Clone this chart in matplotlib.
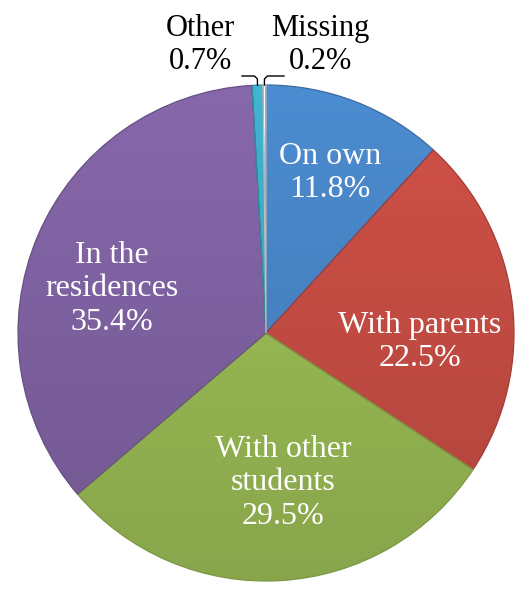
import matplotlib
matplotlib.use("Agg")
import matplotlib.pyplot as plt
import numpy as np
from matplotlib.colors import to_rgb

plt.rcParams["font.family"] = "serif"
plt.rcParams["font.serif"] = ["Liberation Serif", "Times New Roman", "DejaVu Serif"]

# Living arrangements of students (share of respondents, %)
categories = ["On own", "With parents", "With other students",
              "In the residences", "Other", "Missing"]
shares = [11.8, 22.5, 29.5, 35.4, 0.7, 0.2]
label_names = ["On own", "With parents", "With other\nstudents",
               "In the\nresidences", "Other", "Missing"]
colors = ["#4783C3", "#C34C43", "#97B853", "#7E61A0", "#3CA9C4", "#E8E8E8"]

W, H = 515, 590
fig = plt.figure(figsize=(W / 100, H / 100), dpi=100)
ax = fig.add_axes([0, 0, 1, 1])

cx, cy, r = 266, H - 333, 248

wedges, _ = ax.pie(shares, colors=colors, startangle=90, counterclock=False,
                   center=(cx, cy), radius=r, frame=True,
                   wedgeprops=dict(linewidth=0))

# vertical shading: lighter at the top of the pie, darker at the bottom
ny = 400
shade = np.linspace(1.07, 0.90, ny)[:, None]
for w, c in zip(wedges, colors):
    base = np.array(to_rgb(c))
    img = np.clip(shade[:, :, None] * base[None, None, :], 0, 1)
    img = np.repeat(img, 2, axis=1)
    im = ax.imshow(img, extent=(cx - r, cx + r, cy - r, cy + r),
                   origin="upper", interpolation="bilinear", zorder=1.5,
                   aspect="auto")
    im.set_clip_path(w)
    edge = np.clip(base * 0.82, 0, 1)
    w.set_edgecolor(edge)
    w.set_linewidth(0.9)
    w.set_zorder(1.6)
    w.set_facecolor("none")

# labels inside the large slices
fs_in = 23
inner_pos = [(330, 173), (420, 342), (283, 483), (112, 289)]
for i, (px, py) in enumerate(inner_pos):
    ax.text(px, H - py, f"{label_names[i]}\n{shares[i]:.1f}%",
            ha="center", va="center", color="white", fontsize=fs_in, zorder=3)

# small slices labelled outside with elbow leader lines
fs_out = 22
outer_pos = {4: (200, 45), 5: (320, 45)}
line_end = {4: 242, 5: 284}
elbow_y = H - 76
for i, (px, py) in outer_pos.items():
    ax.text(px, H - py, f"{label_names[i]}\n{shares[i]:.1f}%",
            ha="center", va="center", color="black", fontsize=fs_out, zorder=3)
    w = wedges[i]
    mid = np.deg2rad((w.theta1 + w.theta2) / 2)
    rx = cx + r * np.cos(mid)
    ry = cy + r * np.sin(mid)
    ax.plot([line_end[i], rx + (-3 if i == 4 else 3), rx, rx],
            [elbow_y, elbow_y, elbow_y - 3, ry],
            color="black", linewidth=1.0, zorder=3,
            solid_joinstyle="round")

ax.set_xlim(0, W)
ax.set_ylim(0, H)
ax.set_aspect("equal")
ax.axis("off")

fig.savefig("out.png", dpi=100)
